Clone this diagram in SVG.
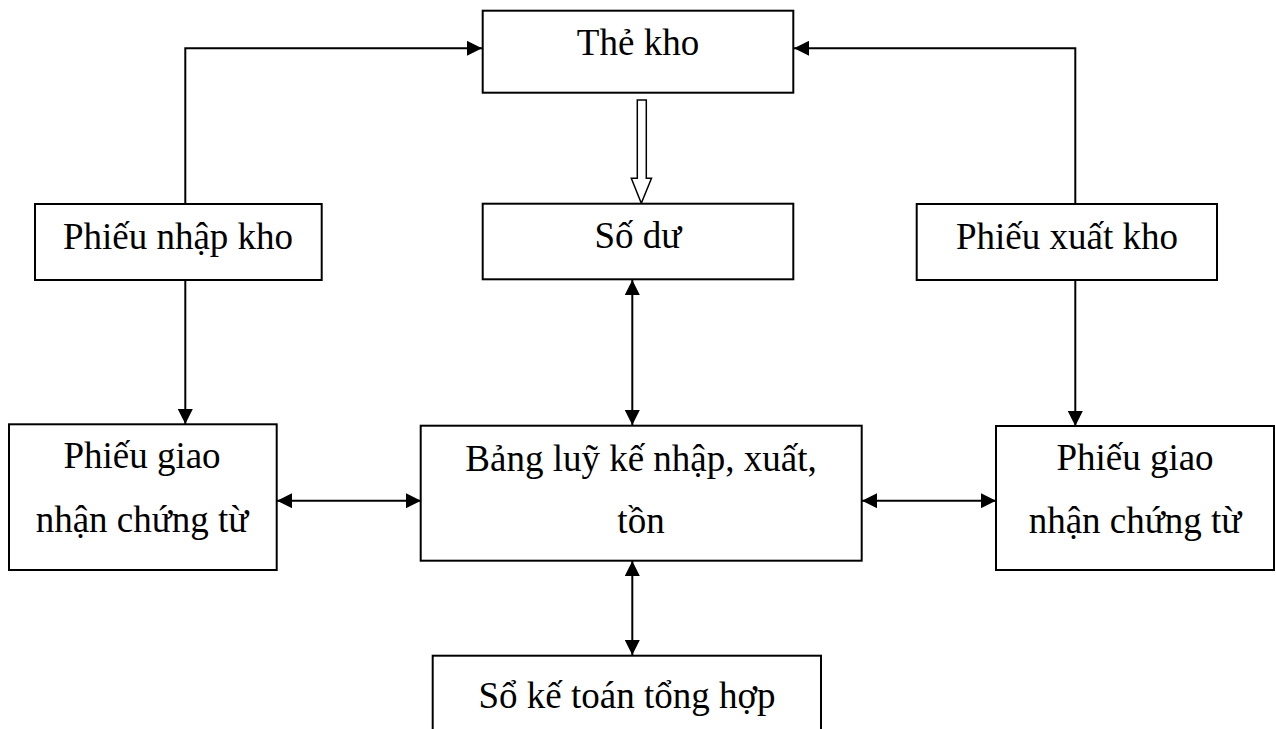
<svg xmlns="http://www.w3.org/2000/svg" width="1276" height="729" viewBox="0 0 1276 729">
<style>
.box{fill:#fff;stroke:#000;stroke-width:2}
.t{font-family:"Liberation Serif","Times New Roman",serif;font-size:37px;fill:#000;text-anchor:middle}
.c{fill:none;stroke:#000;stroke-width:2}
</style>
<defs>
<marker id="ah" markerUnits="userSpaceOnUse" markerWidth="15" markerHeight="15" viewBox="0 0 15 15" refX="15" refY="7.5" orient="auto-start-reverse">
<path d="M0,0 L15,7.5 L0,15 z" fill="#000"/>
</marker>
</defs>
<rect width="1276" height="729" fill="#fff"/>
<g id="connectors">
<path class="c" d="M185.3,204 V48.3 H482" marker-end="url(#ah)"/>
<path class="c" d="M1075.3,204 V48.3 H794" marker-end="url(#ah)"/>
<path class="c" d="M185.3,280 V424" marker-end="url(#ah)"/>
<path class="c" d="M1075.3,280 V426" marker-end="url(#ah)"/>
<path class="c" d="M632.3,280 V425" marker-start="url(#ah)" marker-end="url(#ah)"/>
<path class="c" d="M632.3,561 V655" marker-start="url(#ah)" marker-end="url(#ah)"/>
<path class="c" d="M277,500.7 H421" marker-start="url(#ah)" marker-end="url(#ah)"/>
<path class="c" d="M862,500.7 H996" marker-start="url(#ah)" marker-end="url(#ah)"/>
<polygon points="637.3,100 646.3,100 646.3,178.3 651.5,178.3 641.3,203.3 631.3,178.3 637.3,178.3" fill="#fff" stroke="#000" stroke-width="1.5"/>
</g>
<g id="the-kho">
<rect class="box" x="482.7" y="10.7" width="310.6" height="82"/>
<text class="t" x="638" y="55">Thẻ kho</text>
</g>
<g id="phieu-nhap-kho">
<rect class="box" x="35" y="204" width="286.7" height="76"/>
<text class="t" x="178" y="249">Phiếu nhập kho</text>
</g>
<g id="so-du">
<rect class="box" x="482.7" y="203.7" width="310.6" height="75.6"/>
<text class="t" x="638" y="248">Số dư</text>
</g>
<g id="phieu-xuat-kho">
<rect class="box" x="916.7" y="204" width="300.3" height="76"/>
<text class="t" x="1067" y="249">Phiếu xuất kho</text>
</g>
<g id="phieu-giao-trai">
<rect class="box" x="9" y="424.3" width="267.7" height="145.7"/>
<text class="t" x="142" y="468">Phiếu giao</text>
<text class="t" x="142" y="531.7">nhận chứng từ</text>
</g>
<g id="bang-luy-ke">
<rect class="box" x="420.7" y="425.7" width="441" height="135"/>
<text class="t" x="641" y="470.7">Bảng luỹ kế nhập, xuất,</text>
<text class="t" x="641" y="533">tồn</text>
</g>
<g id="phieu-giao-phai">
<rect class="box" x="996" y="426" width="278" height="144"/>
<text class="t" x="1135" y="470">Phiếu giao</text>
<text class="t" x="1135" y="533">nhận chứng từ</text>
</g>
<g id="so-ke-toan">
<rect class="box" x="432.7" y="655.7" width="388.3" height="90"/>
<text class="t" x="627" y="708">Sổ kế toán tổng hợp</text>
</g>
</svg>
